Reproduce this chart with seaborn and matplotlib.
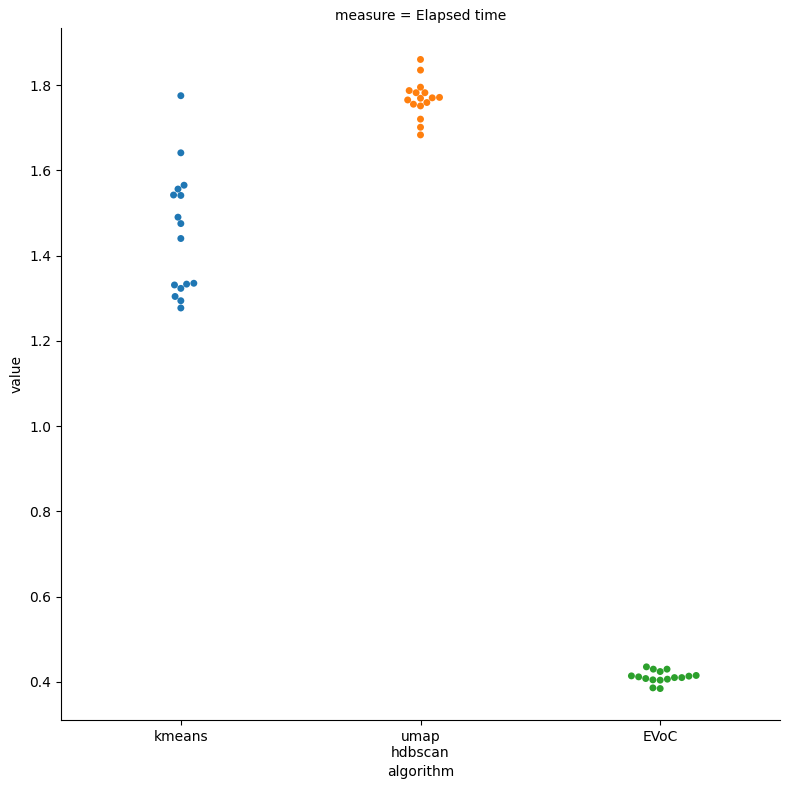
import numpy as np
import pandas as pd
import seaborn as sns
import matplotlib
matplotlib.use("Agg")
import matplotlib.pyplot as plt

algorithms = ["kmeans", "umap\nhdbscan", "EVoC"]

kmeans_vals = [1.775, 1.641, 1.565, 1.556, 1.542, 1.541, 1.490, 1.475, 1.440,
               1.335, 1.333, 1.331, 1.323, 1.304, 1.294, 1.277]
umap_vals = [1.860, 1.835, 1.795, 1.787, 1.782, 1.782, 1.771, 1.770, 1.769,
             1.765, 1.759, 1.755, 1.751, 1.720, 1.701, 1.683]
evoc_vals = [0.415, 0.4134, 0.410, 0.4078, 0.4047, 0.404, 0.4063, 0.410, 0.4117,
             0.414, 0.4298, 0.4242, 0.4298, 0.4352, 0.3859, 0.3843]

df = pd.DataFrame({
    "algorithm": [algorithms[0]] * len(kmeans_vals)
                 + [algorithms[1]] * len(umap_vals)
                 + [algorithms[2]] * len(evoc_vals),
    "value": kmeans_vals + umap_vals + evoc_vals,
    "measure": "Elapsed time",
})

g = sns.catplot(data=df, x="algorithm", y="value", hue="algorithm", col="measure",
                kind="swarm", height=7.89, aspect=790 / 789, order=algorithms,
                hue_order=algorithms, legend=False)
g.figure.set_size_inches(7.9, 7.89)
g.figure.subplots_adjust(left=61 / 790, right=780 / 790,
                         top=1 - 28 / 789, bottom=1 - 720 / 789)
g.figure.savefig("out.png", dpi=100)
